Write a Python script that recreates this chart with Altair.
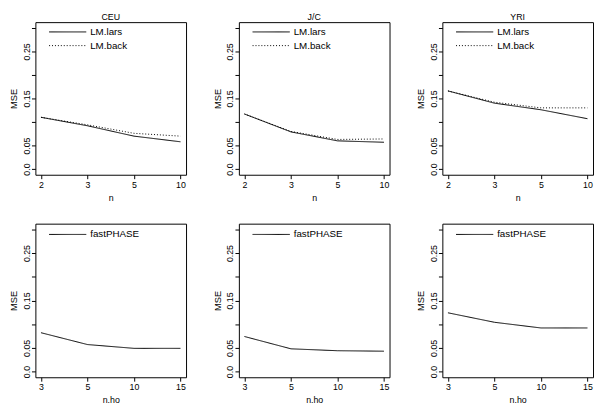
import altair as alt
import pandas as pd

# ---- data ----
n_labels = ["2", "3", "5", "10"]
nho_labels = ["3", "5", "10", "15"]
populations = ["CEU", "J/C", "YRI"]

lars_ceu = [0.110, 0.092, 0.070, 0.058]
back_ceu = [0.110, 0.094, 0.076, 0.070]
lars_jc = [0.117, 0.079, 0.060, 0.057]
back_jc = [0.117, 0.080, 0.063, 0.064]
lars_yri = [0.166, 0.140, 0.126, 0.107]
back_yri = [0.166, 0.142, 0.130, 0.130]

fp_ceu = [0.082, 0.057, 0.049, 0.049]
fp_jc = [0.074, 0.048, 0.044, 0.043]
fp_yri = [0.124, 0.104, 0.092, 0.092]

y_ticks = [0.0, 0.05, 0.10, 0.15, 0.20, 0.25, 0.30]
y_domain = [-0.012, 0.312]

FONT = "Liberation Sans"
W = 154
H_TOP = 156
H_BOT = 157
DASHES = {"LM.lars": [1, 0], "LM.back": [1, 2], "fastPHASE": [1, 0]}


def make_panel(xlabels, series, xtitle, title, height, legend_y0):
    frames = []
    for name, vals in series:
        frames.append(pd.DataFrame({"x": xlabels, "mse": vals, "method": name}))
    df = pd.concat(frames, ignore_index=True)
    names = [s[0] for s in series]

    lines = alt.Chart(df).mark_line(color="black", strokeWidth=1).encode(
        x=alt.X(
            "x:N",
            sort=xlabels,
            scale=alt.Scale(type="point", padding=0.12),
            axis=alt.Axis(
                title=xtitle,
                labelAngle=0,
                tickSize=4,
                labelPadding=2,
                titlePadding=4,
            ),
        ),
        y=alt.Y(
            "mse:Q",
            scale=alt.Scale(domain=y_domain, nice=False, zero=False),
            axis=alt.Axis(
                title="MSE",
                values=y_ticks,
                labelExpr="datum.value < 0.001 ? '0.0' : (round(datum.value*100) % 10 == 5 ? format(datum.value, '.2f') : '')",
                labelAngle=270,
                labelAlign="center",
                labelBaseline="bottom",
                labelOverlap=False,
                labelFlush=False,
                tickSize=4,
                labelPadding=0,
                titleX=-17,
                titleFontSize=9.5,
            ),
        ),
        strokeDash=alt.StrokeDash(
            "method:N",
            scale=alt.Scale(domain=names, range=[DASHES[n] for n in names]),
            legend=None,
        ),
        detail="method:N",
    )

    layers = [lines]
    for i, name in enumerate(names):
        yy = legend_y0 + 14 * i
        ld = pd.DataFrame({"label": [name]})
        layers.append(
            alt.Chart(ld)
            .mark_rule(color="black", strokeWidth=1, strokeDash=DASHES[name])
            .encode(x=alt.value(14), x2=alt.value(52), y=alt.value(yy))
        )
        layers.append(
            alt.Chart(ld)
            .mark_text(align="left", baseline="middle", font=FONT, fontSize=10, color="black")
            .encode(x=alt.value(56), y=alt.value(yy), text="label:N")
        )

    props = dict(width=W, height=height)
    if title:
        props["title"] = alt.TitleParams(
            text=title, fontSize=9, font=FONT, fontWeight="normal", color="black", offset=0
        )
    return alt.layer(*layers).properties(**props)


top_series = [
    [("LM.lars", lars_ceu), ("LM.back", back_ceu)],
    [("LM.lars", lars_jc), ("LM.back", back_jc)],
    [("LM.lars", lars_yri), ("LM.back", back_yri)],
]
bot_series = [
    [("fastPHASE", fp_ceu)],
    [("fastPHASE", fp_jc)],
    [("fastPHASE", fp_yri)],
]

panels = []
for pop, ser in zip(populations, top_series):
    panels.append(make_panel(n_labels, ser, "n", pop, H_TOP, 10))
for ser in bot_series:
    panels.append(make_panel(nho_labels, ser, "n.ho", None, H_BOT, 11))

chart = (
    alt.concat(*panels, columns=3, spacing={"row": 50, "column": 54}, bounds="flush")
    .properties(padding=0, background="white")
    .configure_view(stroke="black", strokeWidth=1)
    .configure_axis(
        labelFont=FONT,
        titleFont=FONT,
        labelFontSize=9,
        titleFontSize=9,
        titleFontWeight="normal",
        labelColor="black",
        titleColor="black",
        tickColor="black",
        tickWidth=1,
        domain=False,
        grid=False,
    )
)

chart.save("out.html", embed_options={"renderer": "svg", "actions": False})
